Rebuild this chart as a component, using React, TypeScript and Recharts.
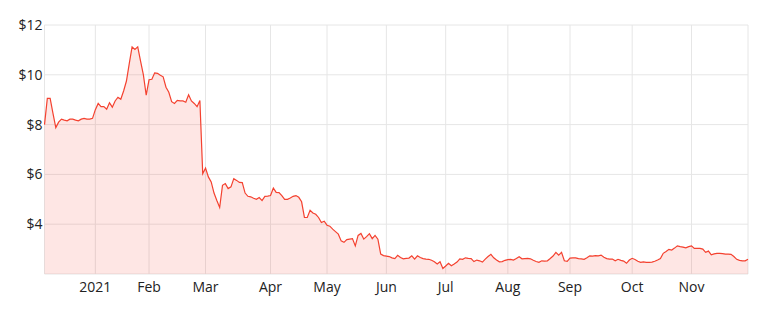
import { AreaChart, Area, XAxis, YAxis, CartesianGrid } from "recharts";

// daily closing prices, one per trading day, early Dec 2020 -> end Nov 2021
const prices = [
  8.0, 9.05, 9.05, 8.45, 7.88, 8.1, 8.22, 8.18, 8.15, 8.22,
  8.22, 8.18, 8.15, 8.22, 8.25, 8.22, 8.22, 8.25, 8.6, 8.85,
  8.72, 8.72, 8.62, 8.88, 8.7, 8.95, 9.1, 9.02, 9.35, 9.75,
  10.45, 11.12, 11.02, 11.12, 10.55, 10.0, 9.18, 9.8, 9.82, 10.08,
  10.06, 9.98, 9.92, 9.5, 9.3, 8.92, 8.85, 8.97, 8.95, 8.95,
  8.9, 9.2, 8.95, 8.85, 8.72, 8.97, 6.03, 6.25, 5.9, 5.7,
  5.25, 4.95, 4.67, 5.56, 5.63, 5.43, 5.5, 5.83, 5.76, 5.68,
  5.67, 5.25, 5.12, 5.1, 5.04, 5.0, 5.07, 4.95, 5.12, 5.13,
  5.15, 5.45, 5.28, 5.27, 5.15, 5.0, 5.0, 5.05, 5.12, 5.15,
  5.08, 4.9, 4.27, 4.27, 4.56, 4.45, 4.4, 4.27, 4.07, 4.12,
  3.96, 3.92, 3.8, 3.7, 3.6, 3.33, 3.27, 3.38, 3.4, 3.42,
  3.13, 3.55, 3.63, 3.4, 3.5, 3.62, 3.42, 3.55, 3.4, 2.8,
  2.74, 2.72, 2.7, 2.65, 2.62, 2.75, 2.66, 2.61, 2.63, 2.64,
  2.73, 2.6, 2.73, 2.66, 2.62, 2.6, 2.59, 2.55, 2.49, 2.4,
  2.49, 2.22, 2.32, 2.43, 2.33, 2.4, 2.48, 2.61, 2.59, 2.65,
  2.63, 2.62, 2.5, 2.56, 2.53, 2.48, 2.6, 2.7, 2.79, 2.65,
  2.56, 2.49, 2.5, 2.55, 2.58, 2.59, 2.56, 2.62, 2.69, 2.61,
  2.62, 2.63, 2.61, 2.55, 2.5, 2.47, 2.53, 2.52, 2.53, 2.62,
  2.72, 2.87, 2.76, 2.87, 2.53, 2.51, 2.64, 2.65, 2.65, 2.62,
  2.61, 2.59, 2.65, 2.73, 2.72, 2.74, 2.73, 2.76, 2.67, 2.62,
  2.6, 2.6, 2.53, 2.59, 2.55, 2.52, 2.43, 2.56, 2.63, 2.58,
  2.51, 2.47, 2.49, 2.47, 2.47, 2.48, 2.51, 2.56, 2.62, 2.83,
  2.9, 2.99, 2.96, 3.04, 3.13, 3.1, 3.08, 3.05, 3.1, 3.13,
  3.03, 3.03, 3.03, 3.0, 2.87, 2.92, 2.77, 2.81, 2.83, 2.83,
  2.82, 2.8, 2.8, 2.79, 2.7, 2.59, 2.55, 2.53, 2.53, 2.59,
];

// first trading day of each month (index into prices) and its label
const monthIdx = [18, 37, 57, 80, 100, 121, 142, 164, 186, 208, 229];
const monthLabels = ["2021", "Feb", "Mar", "Apr", "May", "Jun", "Jul", "Aug", "Sep", "Oct", "Nov"];

const yTicks = [2, 4, 6, 8, 10, 12];

const data = prices.map((p, i) => ({ i, price: p }));
const lastIdx = prices.length - 1;
const xTicks = [0, ...monthIdx, lastIdx];

const FONT = "'Open Sans', sans-serif";

export default function App() {
  return (
    <div style={{ margin: -8, width: 757, height: 309, background: "#fff" }}>
      <AreaChart
        width={757}
        height={309}
        data={data}
        margin={{ top: 25, right: 9, bottom: 5, left: 0 }}
      >
        <CartesianGrid stroke="#e6e6e6" strokeWidth={1} />
        <XAxis
          dataKey="i"
          type="number"
          domain={[0, lastIdx]}
          ticks={xTicks}
          interval={0}
          tickFormatter={(v: number) => {
            const k = monthIdx.indexOf(v);
            return k >= 0 ? monthLabels[k] : "";
          }}
          tickLine={false}
          tickSize={0}
          tickMargin={8}
          axisLine={false}
          height={30}
          tick={{ fontSize: 14, fill: "#222", fontFamily: FONT }}
        />
        <YAxis
          domain={[2, 12]}
          ticks={yTicks}
          tickFormatter={(v: number) => (v === 2 ? "" : `$${v}`)}
          tickLine={false}
          tickSize={0}
          tickMargin={2}
          axisLine={false}
          width={44.5}
          tick={{ fontSize: 14, fill: "#222", fontFamily: FONT }}
        />
        <Area
          type="linear"
          dataKey="price"
          stroke="#f4412f"
          strokeWidth={1.2}
          fill="#f4412f"
          fillOpacity={0.13}
          dot={false}
          activeDot={false}
          isAnimationActive={false}
        />
      </AreaChart>
    </div>
  );
}
